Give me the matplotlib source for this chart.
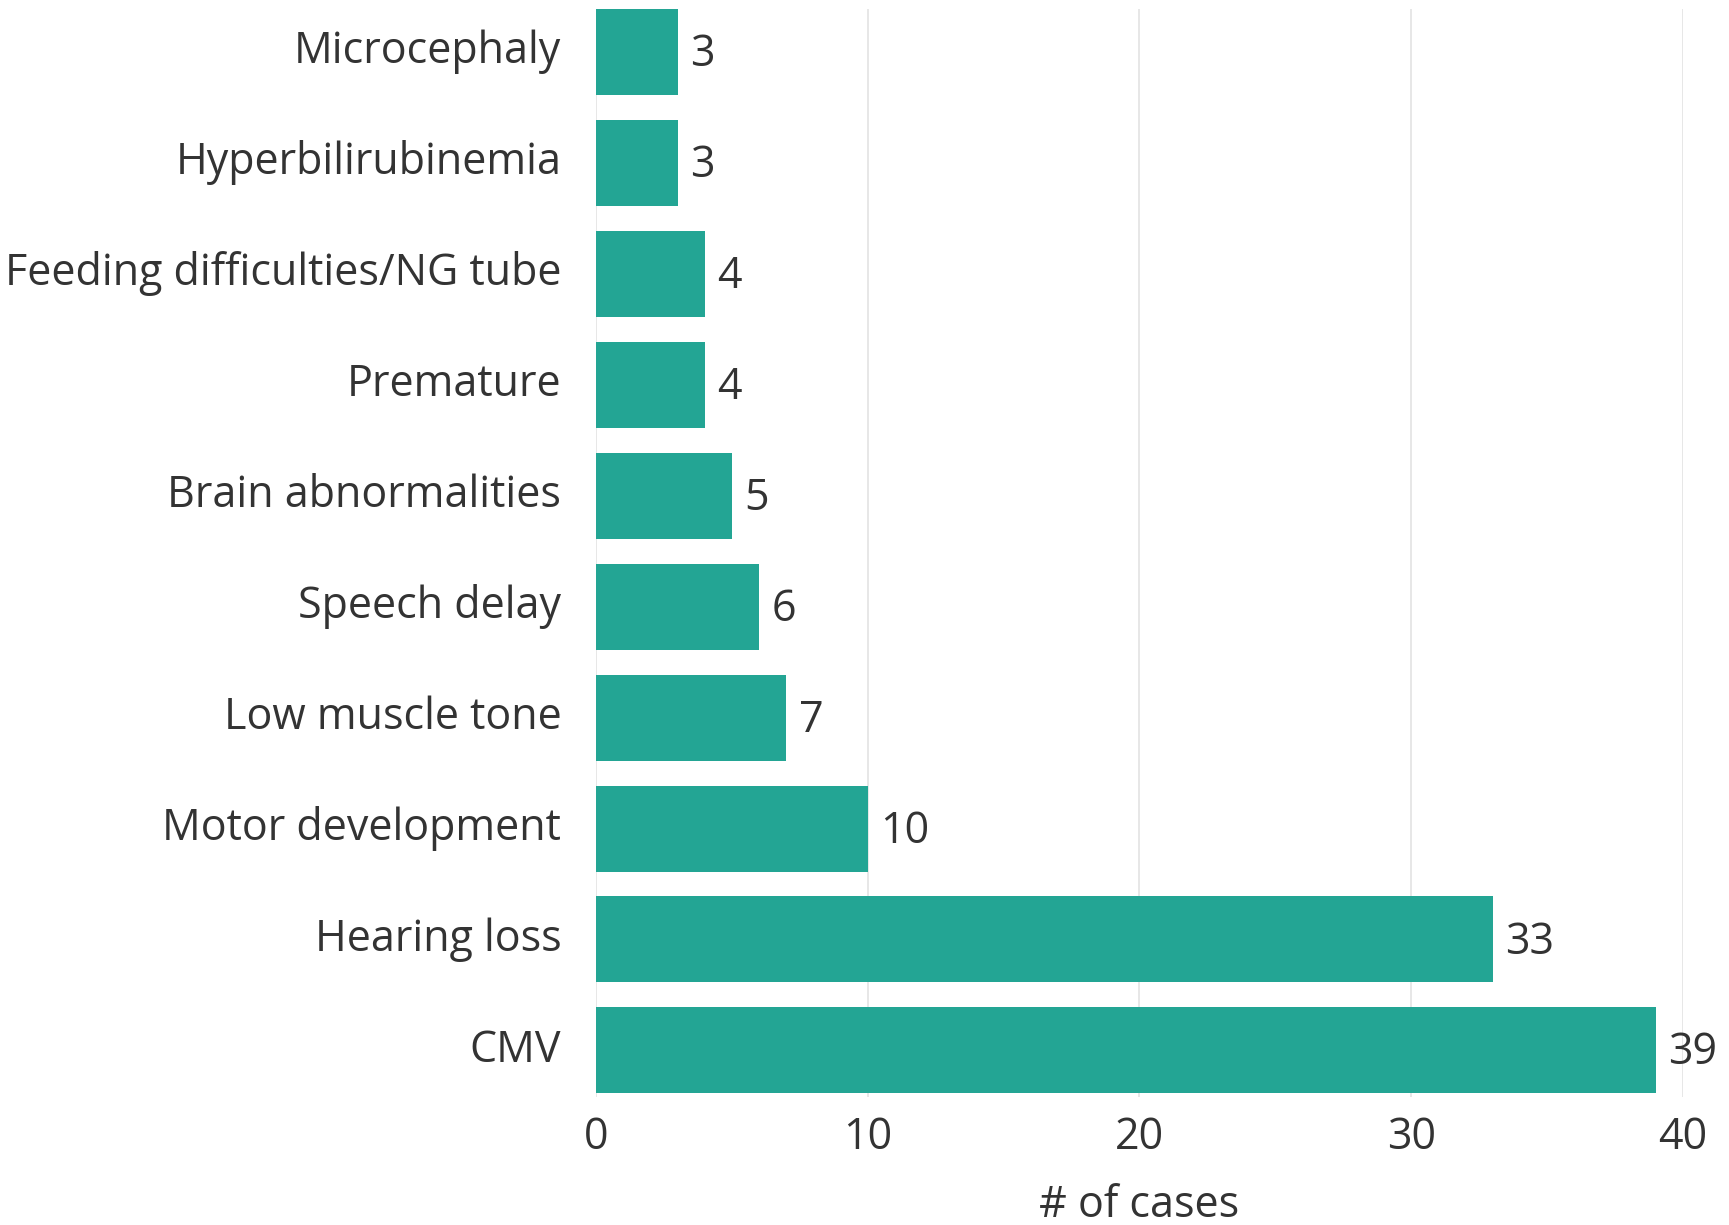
import matplotlib.pyplot as plt
import matplotlib.transforms as mtransforms

categories = ["CMV", "Hearing loss", "Motor development", "Low muscle tone",
              "Speech delay", "Brain abnormalities", "Premature",
              "Feeding difficulties/NG tube", "Hyperbilirubinemia", "Microcephaly"]
cases = [39, 33, 10, 7, 6, 5, 4, 4, 3, 3]
x_ticks = [0, 10, 20, 30, 40]

plt.rcParams['font.family'] = ['Open Sans', 'DejaVu Sans']
fs = 31
txt = '#333333'

fig = plt.figure(figsize=(17.29, 12.25), dpi=100)
ax = fig.add_axes([0.3447, 0.1045, 0.6287, 0.8883])

ypos = list(range(len(categories)))
ax.barh(ypos, cases, height=0.775, color='#23a594', zorder=2)

for y, v in zip(ypos, cases):
    ax.annotate(str(v), xy=(v, y), xytext=(9, -2), textcoords='offset points',
                va='center', ha='left', fontsize=fs, color=txt)

ax.set_yticks(ypos)
ax.set_yticklabels(categories, fontsize=fs, color=txt)
ax.set_xticks(x_ticks)
ax.set_xticklabels([str(t) for t in x_ticks], fontsize=fs, color=txt)
ax.set_xlim(0, 40)
ax.set_ylim(-0.42, 9.39)
ax.tick_params(axis='both', length=0)
ax.tick_params(axis='y', pad=25)
ax.tick_params(axis='x', pad=13)

# nudge category labels up a little, as in the original
shift = mtransforms.ScaledTranslation(0, 4 / 72, fig.dpi_scale_trans)
for lab in ax.get_yticklabels():
    lab.set_transform(lab.get_transform() + shift)

ax.xaxis.grid(True, color='#e3e3e3', linewidth=1.2, zorder=0)
ax.set_axisbelow(True)
for s in ax.spines.values():
    s.set_visible(False)

ax.set_xlabel('# of cases', fontsize=fs, color=txt, labelpad=17)

fig.savefig('out.png', dpi=100)
